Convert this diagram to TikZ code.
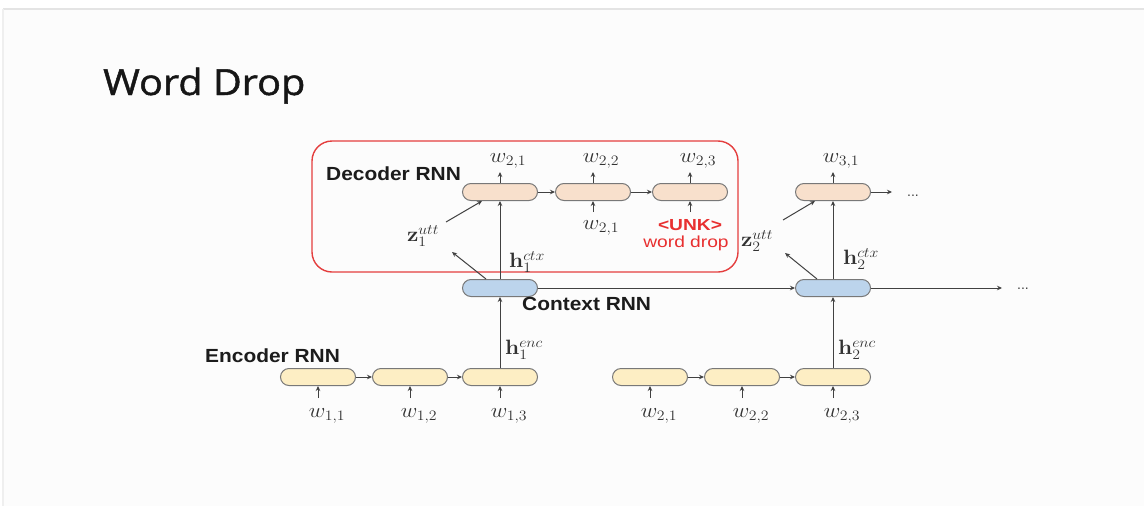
\documentclass[tikz,border=0pt]{standalone}
\usepackage[no-math]{fontspec}
\setmainfont{Liberation Sans}
\newfontfamily\titlefont[FakeBold=1.2]{Open Sans}
\usepackage{graphicx}
\usetikzlibrary{arrows.meta}

\definecolor{slidebg}{RGB}{252,252,252}
\definecolor{slideedge}{RGB}{228,228,228}
\definecolor{cellborder}{RGB}{120,120,120}
\definecolor{decfill}{RGB}{248,224,204}
\definecolor{encfill}{RGB}{253,238,196}
\definecolor{ctxfill}{RGB}{188,212,236}
\definecolor{linecol}{RGB}{65,65,65}
\definecolor{labcol}{RGB}{50,50,50}
\definecolor{darktext}{RGB}{28,28,28}
\definecolor{titlecol}{RGB}{22,22,22}
\definecolor{framered}{RGB}{228,62,62}
\definecolor{textred}{RGB}{232,48,48}

% widened lettering
\newcommand\hs[1]{\scalebox{1.1}[1]{#1}}
\newcommand\hsw[1]{\scalebox{1.2}[1]{#1}}

\begin{document}
\begin{tikzpicture}[x=1pt,y=-1pt,
  cell/.style={draw=cellborder, line width=1pt, rounded corners=8.5pt,
    minimum width=75pt, minimum height=17pt, inner sep=0pt},
  dec/.style={cell, fill=decfill},
  enc/.style={cell, fill=encfill},
  ctx/.style={cell, fill=ctxfill},
  arr/.style={draw=linecol, line width=1pt, -{Stealth[length=5pt,width=4.5pt]}},
  mlab/.style={text=labcol, inner sep=1pt, font=\fontsize{21}{24}\selectfont},
  rnnlab/.style={text=darktext, inner sep=0pt, font=\fontsize{19}{22}\selectfont\bfseries},
  redlab/.style={text=textred, inner sep=0pt, font=\fontsize{16}{18}\selectfont},
  dots/.style={text=linecol, inner sep=0pt, font=\fontsize{14}{16}\selectfont},
]
\useasboundingbox (0,0) rectangle (1147,506);

% slide panel
\fill[white] (0,0) rectangle (1147,506);
\fill[slidebg] (3,9) rectangle (1144,506);
\draw[slideedge, line width=2pt] (3,9) -- (1144,9);
\draw[slideedge!60!white, line width=1.5pt] (3,9) -- (3,506);

% title
\node[anchor=base west, inner sep=0pt, text=titlecol,
  font=\titlefont\fontsize{36}{40}\selectfont] (title) at (103,95) {\hs{Word Drop}};

% decoder frame
\node[draw=framered, line width=1.4pt, rounded corners=20pt,
  minimum width=426pt, minimum height=131pt, inner sep=0pt] (dframe) at (525,206.5) {};

% cells
\node[dec] (d1) at (500,192) {};
\node[dec] (d2) at (593,192) {};
\node[dec] (d3) at (690,192) {};
\node[dec] (d4) at (833,192) {};
\node[ctx] (c1) at (500,288) {};
\node[ctx] (c2) at (833,288) {};
\node[enc] (e1) at (318,377) {};
\node[enc] (e2) at (410,377) {};
\node[enc] (e3) at (500,377) {};
\node[enc] (e4) at (650,377) {};
\node[enc] (e5) at (742,377) {};
\node[enc] (e6) at (833,377) {};

% row labels
\node[rnnlab, anchor=west] (declab) at (326,174) {\hs{Decoder RNN}};
\node[rnnlab, anchor=west] (ctxlab) at (522,304) {\hs{Context RNN}};
\node[rnnlab, anchor=west] (enclab) at (205,356) {\hs{Encoder RNN}};

% recurrent links
\draw[arr] (d1.east) -- (d2.west);
\draw[arr] (d2.east) -- (d3.west);
\draw[arr] (e1.east) -- (e2.west);
\draw[arr] (e2.east) -- (e3.west);
\draw[arr] (e4.east) -- (e5.west);
\draw[arr] (e5.east) -- (e6.west);
\draw[arr] (c1.east) -- (c2.west);
\coordinate (ctxend) at (1002,288);
\draw[arr] (c2.east) -- (ctxend);
\node[dots] (ctxdots) at (1023,289) {...};
\coordinate (decend) at (892,192);
\draw[arr] (d4.east) -- (decend);
\node[dots] (decdots) at (913,196) {...};

% hierarchy links
\draw[arr] (e3.north) -- (c1.south);
\draw[arr] (c1.north) -- (d1.south);
\draw[arr] (e6.north) -- (c2.south);
\draw[arr] (c2.north) -- (d4.south);

% latent variable links
\coordinate (z1s) at (446,222);
\coordinate (z1t) at (452,252);
\draw[arr] (z1s) -- ([xshift=-18pt]d1.south);
\draw[arr] ([xshift=-14pt]c1.north) -- (z1t);
\coordinate (z2s) at (783,220);
\coordinate (z2t) at (785,253);
\draw[arr] (z2s) -- ([xshift=-18pt]d4.south);
\draw[arr] ([xshift=-16pt]c2.north) -- (z2t);

\node[mlab] (z1) at (423,236) {\hs{$\mathbf{z}_1^{utt}$}};
\node[mlab] (z2) at (757,241) {\hs{$\mathbf{z}_2^{utt}$}};
\node[mlab] (h1c) at (527,262) {\hs{$\mathbf{h}_1^{ctx}$}};
\node[mlab] (h2c) at (861,259) {\hs{$\mathbf{h}_2^{ctx}$}};
\node[mlab] (h1e) at (524,350) {\hs{$\mathbf{h}_1^{enc}$}};
\node[mlab] (h2e) at (857,350) {\hs{$\mathbf{h}_2^{enc}$}};

% decoder outputs
\draw[arr] (d1.north) -- ([yshift=11pt]d1.north);
\draw[arr] (d2.north) -- ([yshift=11pt]d2.north);
\draw[arr] (d3.north) -- ([yshift=11pt]d3.north);
\draw[arr] (d4.north) -- ([yshift=11pt]d4.north);
\node[mlab] (o1) at (508,161) {\hs{$w_{2,1}$}};
\node[mlab] (o2) at (601,161) {\hs{$w_{2,2}$}};
\node[mlab] (o3) at (698,161) {\hs{$w_{2,3}$}};
\node[mlab] (o4) at (841,161) {\hs{$w_{3,1}$}};

% decoder inputs
\draw[arr] ([yshift=-11pt]d2.south) -- (d2.south);
\draw[arr] ([yshift=-11pt]d3.south) -- (d3.south);
\node[mlab] (i2) at (601,228) {\hs{$w_{2,1}$}};
\node[redlab, font=\fontsize{16}{18}\selectfont\bfseries] (unk) at (690,225) {\hsw{<UNK>}};
\node[redlab] (wdrop) at (686,243) {\hsw{word drop}};

% encoder inputs
\foreach \c/\t in {e1/{1,1}, e2/{1,2}, e3/{1,3}, e4/{2,1}, e5/{2,2}, e6/{2,3}} {
  \draw[arr] ([yshift=-12pt]\c.south) -- (\c.south);
  \node[mlab] (in-\c) at ([xshift=9pt,yshift=-30pt]\c.south) {\hs{$w_{\t}$}};
}
\end{tikzpicture}
\end{document}
